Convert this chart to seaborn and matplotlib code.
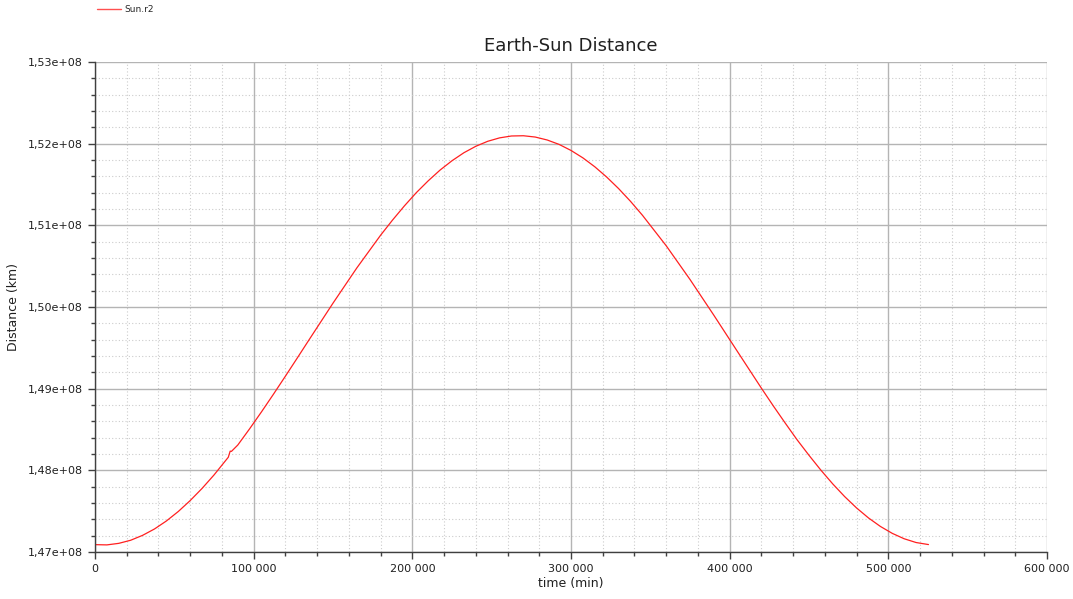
import matplotlib
matplotlib.use("Agg")
import matplotlib.pyplot as plt
from matplotlib.ticker import FuncFormatter, MultipleLocator, AutoMinorLocator
from matplotlib.lines import Line2D
import seaborn as sns
import pandas as pd

time_min = [0, 7500, 15000, 22500, 30000, 37500, 45000, 52500, 60000, 67500, 75000,
            84000, 85200, 86000, 90000, 97500, 105000, 112500, 120000, 127500,
            135000, 150000, 165000, 180000, 187500, 195000, 202500, 210000, 217500,
            225000, 232500, 240000, 247500, 255000, 262500, 270000, 277500, 285000,
            292500, 300000, 307500, 315000, 322500, 330000, 337500, 345000, 360000,
            375000, 390000, 405000, 420000, 427500, 435000, 442500, 450000, 457500,
            465000, 472500, 480000, 487500, 495000, 502500, 510000, 517500, 525300]
distance_km = [1.47090e8, 1.47087e8, 1.47106e8, 1.47144e8, 1.47204e8, 1.47282e8,
               1.47380e8, 1.47496e8, 1.47630e8, 1.47779e8, 1.47943e8,
               1.48160e8, 1.48235e8, 1.48232e8, 1.48310e8, 1.48510e8, 1.48718e8,
               1.48933e8, 1.49153e8, 1.49376e8, 1.49601e8, 1.50047e8, 1.50478e8,
               1.50879e8, 1.51064e8, 1.51238e8, 1.51400e8, 1.51545e8, 1.51677e8,
               1.51791e8, 1.51889e8, 1.51968e8, 1.52029e8, 1.52071e8, 1.52094e8,
               1.52097e8, 1.52081e8, 1.52045e8, 1.51991e8, 1.51917e8, 1.51826e8,
               1.51717e8, 1.51591e8, 1.51450e8, 1.51294e8, 1.51124e8, 1.50750e8,
               1.50337e8, 1.49900e8, 1.49452e8, 1.49006e8, 1.48789e8, 1.48579e8,
               1.48374e8, 1.48184e8, 1.48002e8, 1.47833e8, 1.47678e8, 1.47539e8,
               1.47417e8, 1.47313e8, 1.47228e8, 1.47162e8, 1.47116e8, 1.47091e8]
series_name = "Sun.r2"

df = pd.DataFrame({"time": time_min, "distance": distance_km, "series": series_name})

sns.set_style("white")
plt.rcParams['font.family'] = ['DejaVu Sans']

fig = plt.figure(figsize=(10.73, 5.99), dpi=100)
ax = fig.add_axes([95/1073, 1-552/599, (1047-95)/1073, (552-62)/599])

sns.lineplot(data=df, x="time", y="distance", hue="series", palette=["#ff2020"],
             linewidth=0.9, ax=ax, legend=False, sort=False, estimator=None)

ax.set_xlim(0, 600000)
ax.set_ylim(1.47e8, 1.53e8)
ax.xaxis.set_major_locator(MultipleLocator(100000))
ax.xaxis.set_minor_locator(AutoMinorLocator(5))
ax.yaxis.set_major_locator(MultipleLocator(1e6))
ax.yaxis.set_minor_locator(AutoMinorLocator(5))

def xfmt(v, pos):
    return f"{int(round(v)):,}".replace(",", " ")

def yfmt(v, pos):
    return f"{v:.2e}".replace(".", ",")

ax.xaxis.set_major_formatter(FuncFormatter(xfmt))
ax.yaxis.set_major_formatter(FuncFormatter(yfmt))

ax.grid(which="major", color="#b4b4b4", linewidth=1.0, linestyle="-")
ax.grid(which="minor", color="#cccccc", linewidth=0.8, linestyle=(0, (1, 2)))
ax.set_axisbelow(True)

for s in ["top", "right"]:
    ax.spines[s].set_visible(False)
for s in ["left", "bottom"]:
    ax.spines[s].set_color("#404040")
    ax.spines[s].set_linewidth(1.0)

ax.tick_params(which="major", direction="out", length=5, width=1, color="#404040",
               labelsize=8, labelcolor="#202020", left=True, bottom=True)
ax.tick_params(which="minor", direction="out", length=3, width=1, color="#404040",
               left=True, bottom=True)

ax.set_xlabel("time (min)", fontsize=9, color="#202020", labelpad=2)
ax.set_ylabel("Distance (km)", fontsize=9, color="#202020", labelpad=6)
ax.set_title("Earth-Sun Distance", fontsize=13, color="#202020", pad=8)

handle = Line2D([0], [0], color="#ff5050", linewidth=1.0)
fig.legend([handle], [series_name], loc="upper left", bbox_to_anchor=(0.083, 1.005),
           frameon=False, fontsize=6.5, handlelength=2.6, handletextpad=0.4)

fig.savefig("out.png", dpi=100, facecolor="white")
